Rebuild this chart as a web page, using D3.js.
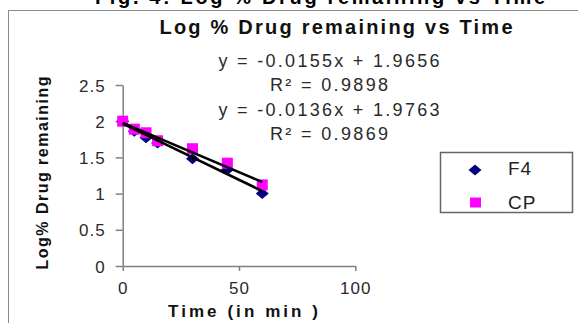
<!DOCTYPE html>
<html>
<head>
<meta charset="utf-8">
<script src="https://cdn.jsdelivr.net/npm/d3@7"></script>
<style>
body { margin:0; background:#fff; }
svg text { font-family: "Liberation Sans", Arial, sans-serif; }
</style>
</head>
<body>
<div id="wrapper"></div>
<script>
// data
var times = [0, 5, 10, 15, 30, 45, 60];
var f4 = [2.0, 1.86, 1.77, 1.70, 1.48, 1.33, 1.0];
var cp = [2.0, 1.89, 1.84, 1.73, 1.62, 1.42, 1.12];
var seriesNames = ["F4", "CP"];
var slopes = [-0.0155, -0.0136];
var intercepts = [1.9656, 1.9763];
var rsq = [0.9898, 0.9869];
var xTicks = [0, 50, 100];
var yTicks = [0, 0.5, 1, 1.5, 2, 2.5];

var w = 578, h = 323;
var axisCol = "#808080";

var svg = d3.select("#wrapper").append("svg")
  .attr("width", w).attr("height", h);

// cut heading from the page above
svg.append("text")
  .attr("x", 320).attr("y", 4)
  .attr("text-anchor", "middle")
  .style("font-size", "20px").style("font-weight", "bold")
  .attr("fill", "#000")
  .attr("textLength", 450).attr("lengthAdjust", "spacing")
  .text("Fig. 4: Log % Drug remaining vs Time");

// chart frame
svg.append("rect")
  .attr("x", 8.5).attr("y", 10.5)
  .attr("width", 700).attr("height", 400)
  .attr("fill", "#fff").attr("stroke", "#8c8c8c").attr("stroke-width", 1);

var x = d3.scaleLinear().domain([0, 100]).range([122.7, 355.3]);
var y = d3.scaleLinear().domain([0, 2.5]).range([266, 85]);

var g = svg.append("g");

// y axis
var ya = g.append("g").attr("transform", "translate(" + x(0) + ",0)")
  .call(d3.axisLeft(y).tickValues(yTicks).tickSizeInner(7).tickSizeOuter(0).tickPadding(10)
    .tickFormat(function(d){ return d; }));
// x axis
var xa = g.append("g").attr("transform", "translate(0," + y(0) + ")")
  .call(d3.axisBottom(x).tickValues(xTicks).tickSizeInner(5).tickSizeOuter(0).tickPadding(11)
    .tickFormat(function(d){ return d; }));

[ya, xa].forEach(function(a){
  a.select(".domain").attr("stroke", axisCol).attr("stroke-width", 1.5);
  a.selectAll(".tick line").attr("stroke", axisCol).attr("stroke-width", 1.5);
  a.selectAll(".tick text")
    .attr("fill", "#2a2a2a")
    .style("font-size", "17px")
    .style("letter-spacing", "1px");
});
ya.selectAll(".tick text").attr("dy", "0.36em");

// markers
function diamond(cx, cy){
  return "M" + (cx - 6.5) + "," + cy + "L" + cx + "," + (cy - 5.5) + "L" + (cx + 6.5) + "," + cy + "L" + cx + "," + (cy + 5.5) + "Z";
}

g.selectAll("path.f4")
  .data(times)
  .enter().append("path")
  .attr("class", "f4")
  .attr("d", function(d, i){ return diamond(x(d), y(f4[i])); })
  .attr("fill", "#000080");

g.selectAll("rect.cp")
  .data(times)
  .enter().append("rect")
  .attr("class", "cp")
  .attr("x", function(d){ return x(d) - 5.5; })
  .attr("y", function(d, i){ return y(cp[i]) - 5.5; })
  .attr("width", 11).attr("height", 11)
  .attr("fill", "#ff00ff");

// trendlines
var tMin = d3.min(times), tMax = d3.max(times);
slopes.forEach(function(s, k){
  g.append("line")
    .attr("x1", x(tMin)).attr("y1", y(intercepts[k] + s * tMin))
    .attr("x2", x(tMax)).attr("y2", y(intercepts[k] + s * tMax))
    .attr("stroke", "#000").attr("stroke-width", 2.5);
});

// title
svg.append("text")
  .attr("x", 336).attr("y", 34)
  .attr("text-anchor", "middle")
  .style("font-size", "20px").style("font-weight", "bold")
  .attr("fill", "#111")
  .attr("textLength", 353).attr("lengthAdjust", "spacing")
  .text("Log % Drug  remaining vs Time");

// equation labels
function fmtEq(k){
  return "y = " + slopes[k] + "x + " + intercepts[k];
}
var eqY = [66.5, 115.5], rY = [90.5, 139.5];
slopes.forEach(function(s, k){
  svg.append("text")
    .attr("x", 329).attr("y", eqY[k])
    .attr("text-anchor", "middle")
    .style("font-size", "18px").attr("fill", "#2a2a2a")
    .attr("textLength", 221).attr("lengthAdjust", "spacing")
    .text(fmtEq(k));
  svg.append("text")
    .attr("x", 329).attr("y", rY[k])
    .attr("text-anchor", "middle")
    .style("font-size", "18px").attr("fill", "#2a2a2a")
    .attr("textLength", 118).attr("lengthAdjust", "spacing")
    .text("R\u00b2 = " + rsq[k]);
});

// axis titles
svg.append("text")
  .attr("x", 243).attr("y", 317)
  .attr("text-anchor", "middle")
  .style("font-size", "17px").style("font-weight", "bold")
  .attr("fill", "#111")
  .attr("textLength", 150).attr("lengthAdjust", "spacing")
  .text("Time (in min )");

svg.append("text")
  .attr("transform", "translate(48,173) rotate(-90)")
  .attr("text-anchor", "middle")
  .style("font-size", "16px").style("font-weight", "bold")
  .attr("fill", "#111")
  .attr("textLength", 193).attr("lengthAdjust", "spacing")
  .text("Log% Drug remaining");

// legend
var lg = svg.append("g");
lg.append("rect")
  .attr("x", 440.5).attr("y", 152.5)
  .attr("width", 132).attr("height", 60)
  .attr("fill", "#fff").attr("stroke", "#666").attr("stroke-width", 1.5);
lg.append("path").attr("d", diamond(475, 170)).attr("fill", "#000080");
lg.append("rect").attr("x", 470).attr("y", 197.5).attr("width", 11).attr("height", 10).attr("fill", "#ff00ff");
lg.selectAll("text.lab")
  .data(seriesNames)
  .enter().append("text")
  .attr("class", "lab")
  .attr("x", 508)
  .attr("y", function(d, i){ return 175 + i * 33.5; })
  .style("font-size", "19px").attr("fill", "#222")
  .style("letter-spacing", "1px")
  .text(function(d){ return d; });
</script>
</body>
</html>
